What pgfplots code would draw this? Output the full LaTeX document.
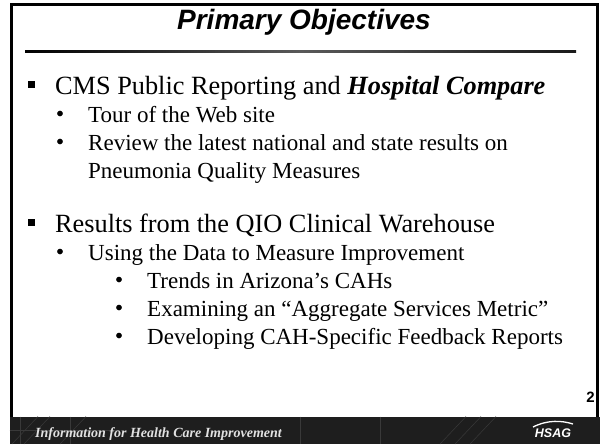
\documentclass[border=0pt]{standalone}
\usepackage{pgfplots}
\pgfplotsset{compat=1.18}
\usepackage{fontspec}
\setmainfont{Liberation Serif}
\newfontfamily\arialfont{Liberation Sans}
\definecolor{footbg}{RGB}{30,30,30}
\definecolor{foottx}{RGB}{225,225,225}
\begin{document}
\begin{tikzpicture}
\begin{axis}[
  scale only axis, width=600bp, height=444bp,
  xmin=0, xmax=600, ymin=0, ymax=444, y dir=reverse,
  hide axis, clip=false,
]
\path[fill=white] (axis cs:0,0) rectangle (axis cs:600,444);
% frame
\draw[line width=3bp, black] (axis cs:11,444) -- (axis cs:11,4.5) -- (axis cs:597,4.5) -- (axis cs:597,444);
% title
\node[anchor=base, inner sep=0pt] at (axis cs:304,30) {\arialfont\bfseries\itshape\fontsize{28bp}{32bp}\selectfont Primary Objectives};
\shade[left color=black, right color=black!90, middle color=gray!70!black] (axis cs:25,50.5) rectangle (axis cs:576,53);
% bullets
\addplot[only marks, mark=square*, mark size=3bp, black] coordinates {(31.5,84.5) (31.5,222.5)};
\addplot[only marks, mark=*, mark size=2.6bp, black] coordinates {(60,113.5) (60,141.5) (60,251.5)};
\addplot[only marks, mark=*, mark size=2.6bp, black] coordinates {(119,279.5) (119,307.5) (119,335.5)};
% texts
\begin{scope}[every node/.style={anchor=base west, inner sep=0pt}]
\node at (axis cs:55,94) {\fontsize{26.3bp}{30bp}\selectfont CMS Public Reporting and \textbf{\textit{Hospital Compare}}};
\node at (axis cs:88,122) {\fontsize{23bp}{28bp}\selectfont Tour of the Web site};
\node at (axis cs:88,150) {\fontsize{23bp}{28bp}\selectfont Review the latest national and state results on};
\node at (axis cs:88,178) {\fontsize{23bp}{28bp}\selectfont Pneumonia Quality Measures};
\node at (axis cs:55,232) {\fontsize{26.3bp}{30bp}\selectfont Results from the QIO Clinical Warehouse};
\node at (axis cs:88,260) {\fontsize{23bp}{28bp}\selectfont Using the Data to Measure Improvement};
\node at (axis cs:147,288) {\fontsize{23bp}{28bp}\selectfont Trends in Arizona’s CAHs};
\node at (axis cs:147,316) {\fontsize{23bp}{28bp}\selectfont Examining an “Aggregate Services Metric”};
\node at (axis cs:147,344) {\fontsize{23bp}{28bp}\selectfont Developing CAH-Specific Feedback Reports};
\end{scope}
\node[anchor=base east, inner sep=0pt] at (axis cs:595,402) {\arialfont\bfseries\fontsize{15bp}{18bp}\selectfont 2};
% footer
\fill[footbg] (axis cs:9.5,416.5) rectangle (axis cs:600,444);
\begin{scope}[gray!45!black, line width=0.5bp]
\draw (axis cs:12,444) -- (axis cs:38,416.5);
\draw (axis cs:24,444) -- (axis cs:50,416.5);
\draw (axis cs:60,444) -- (axis cs:86,416.5);
\draw (axis cs:20,416.5) -- (axis cs:20,444);
\draw (axis cs:70,416.5) -- (axis cs:70,444);
\draw (axis cs:9.5,430) -- (axis cs:120,430);
\draw (axis cs:440,444) -- (axis cs:466,416.5);
\draw (axis cs:455,444) -- (axis cs:481,416.5);
\draw (axis cs:470,444) -- (axis cs:496,416.5);
\draw (axis cs:300,416.5) -- (axis cs:300,444);
\draw (axis cs:380,416.5) -- (axis cs:380,444);
\end{scope}
\node[anchor=base west, inner sep=0pt] at (axis cs:35,437.5) {\color{foottx}\bfseries\itshape\fontsize{14bp}{17bp}\selectfont Information for Health Care Improvement};
\draw[white, line width=1.3bp] (axis cs:533,427) .. controls (axis cs:548,419.5) and (axis cs:562,420.5) .. (axis cs:573,424);
\node[anchor=base, inner sep=0pt] at (axis cs:553,437.5) {\color{white}\arialfont\bfseries\itshape\fontsize{12.5bp}{15bp}\selectfont HSAG};
\end{axis}
\end{tikzpicture}
\end{document}
